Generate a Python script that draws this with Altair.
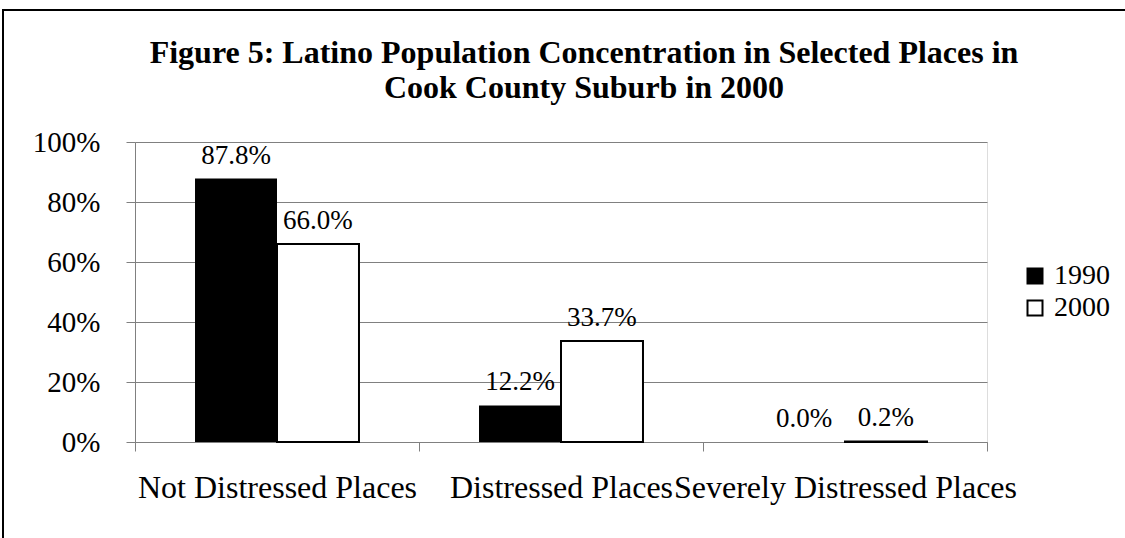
import altair as alt
import pandas as pd

# Share of the Latino population living in each group of places
categories = ["Not Distressed Places", "Distressed Places", "Severely Distressed Places"]
years = ["1990", "2000"]
share_1990 = [0.878, 0.122, 0.000]
share_2000 = [0.660, 0.337, 0.002]
y_ticks = [0.0, 0.2, 0.4, 0.6, 0.8, 1.0]
title_lines = [
    "Figure 5: Latino Population Concentration in Selected Places in",
    "Cook County Suburb in 2000",
]

rows = []
for i, place in enumerate(categories):
    rows.append({"place": place, "year": "1990", "share": share_1990[i]})
    rows.append({"place": place, "year": "2000", "share": share_2000[i]})
df = pd.DataFrame(rows)

FONT = "Liberation Serif, Times New Roman, serif"
GRAY = "#808080"
W, H = 852, 300

x_enc = alt.X(
    "place:N",
    sort=categories,
    scale=alt.Scale(paddingInner=0, paddingOuter=0),
    axis=alt.Axis(
        title=None,
        labelAngle=0,
        tickBand="extent",
        labelFont=FONT,
        labelFontSize=32,
        labelColor="black",
        labelPadding=21,
        labelLimit=600,
        labelOverlap=False,
        labelBound=False,
        tickSize=9,
        tickColor=GRAY,
        domainColor=GRAY,
        grid=False,
    ),
)
xo_enc = alt.XOffset(
    "year:N", sort=years, scale=alt.Scale(paddingInner=0, paddingOuter=0.732)
)
y_enc = alt.Y(
    "share:Q",
    scale=alt.Scale(domain=[0, 1], nice=False),
    axis=alt.Axis(
        title=None,
        values=y_ticks,
        format=".0%",
        grid=True,
        gridColor=GRAY,
        gridWidth=1,
        labelFont=FONT,
        labelFontSize=29,
        labelColor="black",
        labelPadding=26,
        tickSize=9,
        tickColor=GRAY,
        domainColor=GRAY,
    ),
)

bars = alt.Chart(df).mark_bar(stroke="black").encode(
    x=x_enc,
    xOffset=xo_enc,
    y=y_enc,
    fill=alt.Fill(
        "year:N",
        sort=years,
        scale=alt.Scale(domain=years, range=["black", "white"]),
        legend=alt.Legend(
            title=None,
            orient="none",
            legendX=886,
            legendY=120,
            symbolType="square",
            symbolSize=225,
            symbolStrokeColor="black",
            symbolStrokeWidth=2,
            labelFont=FONT,
            labelFontSize=28,
            labelColor="black",
            labelOffset=5,
            rowPadding=4,
            padding=0,
        ),
    ),
    strokeWidth=alt.condition(alt.datum.year == "2000", alt.value(2), alt.value(0)),
)

labels = alt.Chart(df).mark_text(
    baseline="alphabetic", dy=-15, font=FONT, fontSize=27, color="black"
).encode(
    x=alt.X("place:N", sort=categories),
    xOffset=alt.XOffset("year:N", sort=years),
    y="share:Q",
    text=alt.Text("share:Q", format=".1%"),
)

# two-line heading above the plot
heading = alt.Chart(pd.DataFrame({"k": [0]})).mark_text(
    font=FONT,
    fontSize=32,
    fontWeight="bold",
    color="black",
    align="center",
    baseline="alphabetic",
    lineHeight=35,
).encode(
    x=alt.value(449), y=alt.value(-79), text=alt.value(title_lines)
)

# frame around the whole figure
frame = alt.Chart(pd.DataFrame({"k": [0]})).mark_rect(
    fillOpacity=0, stroke="black", strokeWidth=2
).encode(
    x=alt.value(-132), x2=alt.value(1200), y=alt.value(-132), y2=alt.value(600)
)

chart = (
    alt.layer(bars, labels, heading, frame)
    .properties(
        width=W,
        height=H,
        autosize=alt.AutoSizeParams(type="none"),
        padding={"left": 135, "top": 142, "right": 138, "bottom": 96},
    )
    .configure_view(stroke=GRAY, strokeWidth=1)
    .configure(background="white")
)

chart.save("out.html", embed_options={"renderer": "svg", "actions": False})
